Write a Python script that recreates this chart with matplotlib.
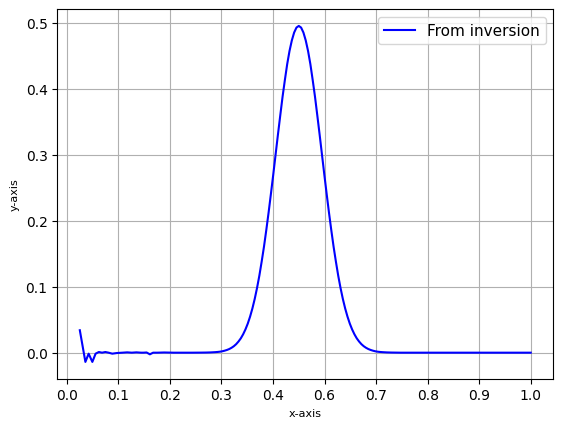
#!/usr/bin/env python
############### Import Libraries ###############
import matplotlib
matplotlib.use('Agg')
import matplotlib.pyplot as plt
from matplotlib.ticker import FormatStrFormatter
import numpy as np

############### Data ###############
# start of the inversion result, with the small ringing near x=0
x_start = [0.028, 0.040, 0.047, 0.055, 0.062, 0.069, 0.076, 0.083, 0.090, 0.098,
           0.108, 0.120, 0.130, 0.140, 0.150, 0.160, 0.165, 0.172, 0.179, 0.186,
           0.195, 0.210, 0.230, 0.250, 0.270, 0.290]
y_start = [0.034, -0.014, -0.0015, -0.014, -0.0015, 0.001, 0.0, 0.001, 0.0, -0.0015,
           -0.0005, 0.0, 0.0005, 0.0, 0.0005, 0.0, 0.0, 0.0003, -0.0025, 0.0,
           0.0, 0.0003, 0.0, 0.0, 0.0, 0.0001]

# the peak (read every 0.005)
x_peak = [0.300, 0.305, 0.310, 0.315, 0.320, 0.325, 0.330, 0.335, 0.340, 0.345,
          0.350, 0.355, 0.360, 0.365, 0.370, 0.375, 0.380, 0.385, 0.390, 0.395,
          0.400, 0.405, 0.410, 0.415, 0.420, 0.425, 0.430, 0.435, 0.440, 0.445,
          0.450, 0.455, 0.460, 0.465, 0.470, 0.475, 0.480, 0.485, 0.490, 0.495,
          0.500, 0.505, 0.510, 0.515, 0.520, 0.525, 0.530, 0.535, 0.540, 0.545,
          0.550, 0.555, 0.560, 0.565, 0.570, 0.575, 0.580, 0.585, 0.590, 0.595,
          0.600, 0.605, 0.610, 0.615, 0.620, 0.625, 0.630, 0.635, 0.640, 0.645,
          0.650, 0.655, 0.660, 0.665, 0.670, 0.675, 0.680, 0.685, 0.690, 0.695,
          0.700]
y_peak = [0.0002, 0.0003, 0.0004, 0.0006, 0.0008, 0.0011, 0.0015, 0.0021, 0.003, 0.0041,
          0.0055, 0.0074, 0.0098, 0.0129, 0.0169, 0.0217, 0.0278, 0.0352, 0.044, 0.0546,
          0.067, 0.0814, 0.098, 0.1167, 0.138, 0.1607, 0.186, 0.2127, 0.241, 0.270,
          0.300, 0.330, 0.359, 0.3875, 0.413, 0.437, 0.457, 0.473, 0.485, 0.4925,
          0.495, 0.4925, 0.485, 0.473, 0.457, 0.437, 0.413, 0.3875, 0.359, 0.330,
          0.300, 0.270, 0.241, 0.2127, 0.186, 0.1607, 0.138, 0.1167, 0.098, 0.0814,
          0.067, 0.0546, 0.044, 0.0352, 0.0278, 0.0217, 0.0169, 0.0129, 0.0098, 0.0074,
          0.0055, 0.0041, 0.003, 0.0021, 0.0015, 0.0011, 0.0008, 0.0006, 0.0004, 0.0003,
          0.0002]

# flat tail
x_tail = [0.72, 0.75, 0.80, 0.85, 0.90, 0.95, 1.00]
y_tail = [0.0, 0.0, 0.0, 0.0, 0.0, 0.0, 0.0]

x = np.array(x_start + x_peak + x_tail)
y = np.array(y_start + y_peak + y_tail)

############### Plot ###############
fig, ax = plt.subplots()
ax.plot(x, y, 'b', label='From inversion')
ax.set_xticks(np.linspace(0, 1, 10))
ax.xaxis.set_major_formatter(FormatStrFormatter('%.1f'))
ax.set_xlabel('x-axis', fontsize=8)
ax.set_ylabel('y-axis', fontsize=8)
ax.legend(fontsize=11)
ax.grid(True)

fig.savefig('out.png', bbox_inches='tight')
